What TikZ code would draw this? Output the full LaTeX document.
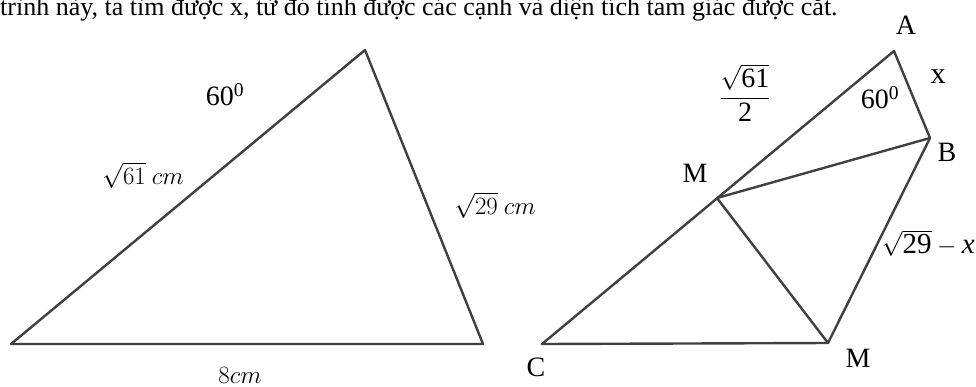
\documentclass[tikz,border=0pt]{standalone}
\usepackage{fontspec}
\setmainfont{Liberation Serif}

\begin{document}
\begin{tikzpicture}[x=1pt, y=-1pt,
    side/.style={line width=2.4pt, draw=black!75, line join=round},
    lbl/.style={inner sep=0pt, font=\fontsize{28}{32}\selectfont},
    cmlbl/.style={inner sep=0pt, font=\fontsize{24}{28}\selectfont}]
  \useasboundingbox (0,0) rectangle (976,386);
  % --- Top: caption line, cut off at the page edge ---
  \node[anchor=base west, inner sep=0pt, font=\fontsize{26}{30}\selectfont] (caption) at (0,15)
    {trình này, ta tìm được x, từ đó tính được các cạnh và diện tích tam giác được cắt.};
  % --- Left: whole triangle ---
  \coordinate (P) at (11,344);
  \coordinate (Q) at (365,50);
  \coordinate (R) at (483,344);
  \draw[side] (P) -- (Q) -- (R) -- cycle;
  \node[lbl] (angQ) at (225,95) {60\textsuperscript{0}};
  \node[cmlbl] (sidePQ) at (143,175) {$\sqrt{61}\ cm$};
  \node[cmlbl] (sideQR) at (495,205) {$\sqrt{29}\ cm$};
  \node[cmlbl] (sidePR) at (240,375) {$8cm$};
  % --- Right: triangle after the cut ---
  \coordinate (C) at (542,344);
  \coordinate (A) at (894,51);
  \coordinate (B) at (930,138);
  \coordinate (M1) at (717,198);
  \coordinate (M2) at (828,343);
  \draw[side] (C) -- (A) -- (B) -- (M2) -- cycle;
  \draw[side] (M1) -- (B);
  \draw[side] (M1) -- (M2);
  \node[lbl] (labA) at (906,25) {A};
  \node[lbl] (labB) at (947,152) {B};
  \node[lbl] (labC) at (536,367) {C};
  \node[lbl] (labM1) at (695,173) {M};
  \node[lbl] (labM2) at (858,358) {M};
  \node[lbl] (angA) at (880,98) {60\textsuperscript{0}};
  \node[lbl, font=\fontsize{30}{34}\selectfont] (sideAB) at (938,77) {x};
  \node[lbl] (halfCA) at (745,93) {$\displaystyle\frac{\sqrt{\mbox{61}}}{\mbox{2}}$};
  \node[lbl, anchor=east, font=\fontsize{29}{34}\selectfont] (sideBM) at (975,243) {$\sqrt{\mbox{29}}-\mbox{\itshape x}$};
\end{tikzpicture}
\end{document}
